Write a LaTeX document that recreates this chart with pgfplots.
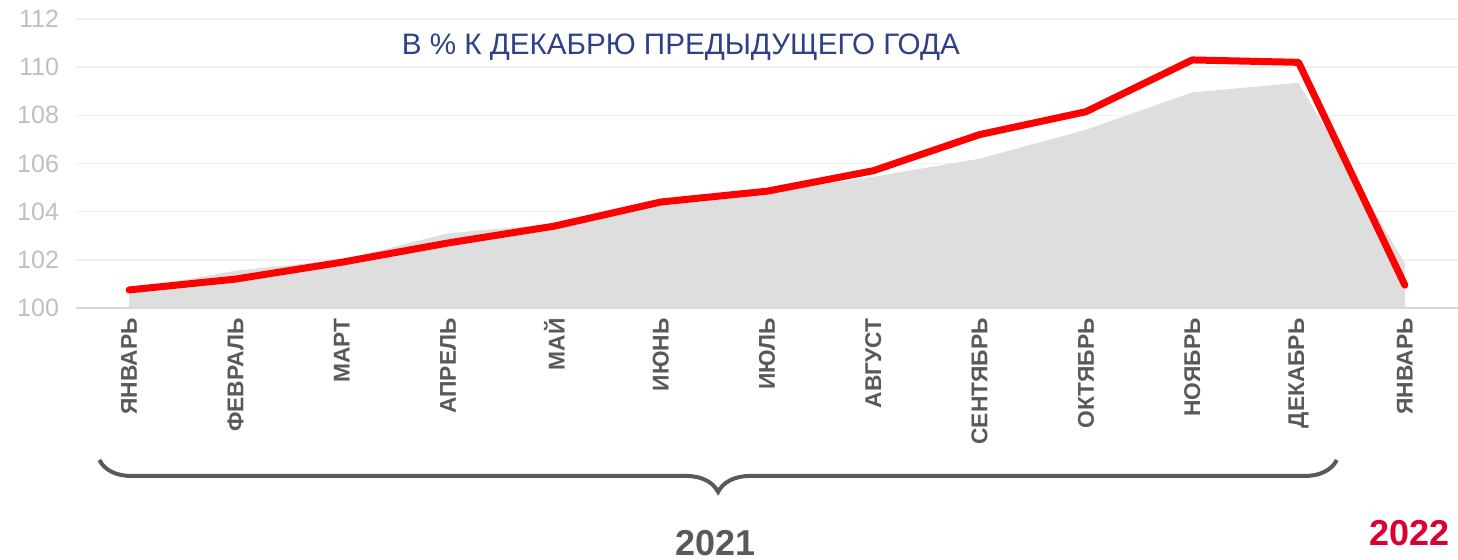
\documentclass[border=0pt]{standalone}
\usepackage{pgfplots}
\pgfplotsset{compat=1.18}
\usepackage{fontspec}
\setmainfont{Liberation Sans}
\usetikzlibrary{decorations.pathreplacing}
\definecolor{tickgrey}{HTML}{BFBFBF}
\definecolor{gridgrey}{HTML}{F0F0F0}
\definecolor{basegrey}{HTML}{D9D9D9}
\definecolor{areagrey}{HTML}{DEDEDE}
\definecolor{labgrey}{HTML}{595959}
\definecolor{titleblue}{RGB}{46,64,135}
\definecolor{yearred}{RGB}{220,0,50}
\definecolor{linered}{RGB}{255,0,0}
\begin{document}
\begin{tikzpicture}
\useasboundingbox (-38pt,-126pt) rectangle (691pt,154pt);
\begin{axis}[
  scale only axis, width=691pt, height=144.5pt,
  xmin=-0.5, xmax=12.5, ymin=100, ymax=112,
  ytick={100,102,...,112},
  xtick={0,...,12},
  xticklabels={ЯНВАРЬ,ФЕВРАЛЬ,МАРТ,АПРЕЛЬ,МАЙ,ИЮНЬ,ИЮЛЬ,АВГУСТ,СЕНТЯБРЬ,ОКТЯБРЬ,НОЯБРЬ,ДЕКАБРЬ,ЯНВАРЬ},
  major tick length=0pt,
  axis line style={draw=none},
  ymajorgrids, major grid style={gridgrey, line width=0.8pt},
  /pgf/number format/assume math mode=true,
  yticklabel style={font=\fontsize{12.5}{14}\selectfont, text=tickgrey, anchor=east, xshift=-5pt},
  xticklabel style={font=\fontsize{11.4}{13}\selectfont\bfseries, text=labgrey, yshift=-5pt, rotate=90, anchor=east, inner sep=0pt},
  clip=false,
]
\addplot[fill=areagrey, draw=none] coordinates {
 (0,100.75) (1,101.55) (2,102.0) (3,103.1) (4,103.5) (5,104.4) (6,104.8) (7,105.45) (8,106.2) (9,107.4) (10,108.95) (11,109.35) (12,101.85)
} \closedcycle;
\draw[basegrey, line width=1pt] (rel axis cs:0,0) -- (rel axis cs:1,0);
\addplot[linered, line width=3.5pt, line join=round, line cap=round] coordinates {
 (0,100.75) (1,101.2) (2,101.9) (3,102.7) (4,103.4) (5,104.4) (6,104.85) (7,105.7) (8,107.2) (9,108.15) (10,110.3) (11,110.2) (12,100.95)
};
\node[text=titleblue, font=\fontsize{14.8}{17}\selectfont] at (axis cs:5.19,110.83) {В \% К ДЕКАБРЮ ПРЕДЫДУЩЕГО ГОДА};
\draw[labgrey, line width=2pt, decorate, decoration={brace, mirror, amplitude=16pt}] (axis cs:-0.28,93.69) -- (axis cs:11.36,93.69);
\node[text=labgrey, font=\fontsize{18}{20}\selectfont\bfseries] at (axis cs:5.52,90.25) {2021};
\node[text=yearred, font=\fontsize{18}{20}\selectfont\bfseries] at (axis cs:12.04,90.66) {2022};
\end{axis}
\end{tikzpicture}
\end{document}
